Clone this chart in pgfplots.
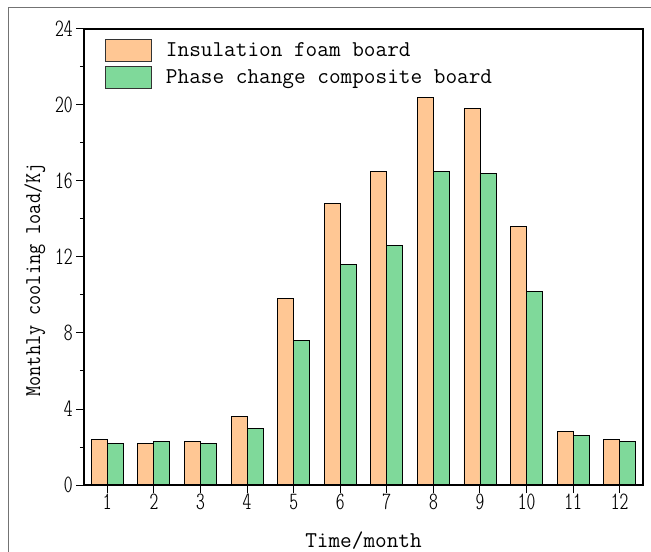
\documentclass[border=0pt]{standalone}
\usepackage{graphicx}
\usepackage{pgfplots}
\pgfplotsset{compat=1.18}
\definecolor{orangeb}{HTML}{FFC794}
\definecolor{greenb}{HTML}{7FD99A}
\newcommand{\cf}{\fontfamily{lmtt}\fontseries{lc}\selectfont}
\newcommand{\rf}{\fontfamily{lmtt}\fontseries{m}\selectfont}
\begin{document}
\begin{tikzpicture}
\useasboundingbox (-84bp,-67bp) rectangle (567bp,485bp);
\draw[black!55, line width=1bp] (-75bp,-100bp) -- (-75bp,477bp) -- (600bp,477bp);
\begin{axis}[
  at={(0,0)}, anchor=south west, scale only axis,
  width=559bp, height=456bp,
  axis on top,
  ybar=0pt, bar width=16bp,
  xmin=0.5, xmax=12.5, ymin=0, ymax=24,
  xtick={1,...,12}, ytick={0,4,...,24}, minor y tick num=1,
  tick align=outside, xtick pos=left, ytick pos=left,
  major tick length=8bp, minor tick length=4bp,
  axis line style={line width=1.2bp, black},
  tick style={line width=1bp, black},
  /pgf/number format/assume math mode=true,
  ticklabel style={font=\cf\fontsize{25}{27}\selectfont},
  xticklabel style={anchor=center, yshift=-9bp},
  yticklabel style={anchor=east, xshift=0bp},
  xlabel={Time/month}, ylabel={\scalebox{0.87}[1]{Monthly cooling load/Kj}},
  xlabel style={font=\rf\fontsize{22.7}{24}\selectfont, at={(axis description cs:0.5,-0.1228)}, anchor=center},
  ylabel style={font=\rf\fontsize{22.7}{24}\selectfont, at={(axis description cs:-0.0877,0.4496)}, anchor=center},
  legend image code/.code={\draw[#1, draw=black!80, line width=0.8bp] (0bp,-11.3bp) rectangle (46bp,11.3bp);},
  legend style={at={(axis description cs:0,1)}, anchor=north west, xshift=21bp, yshift=-9.5bp,
     draw=none, fill=none, font=\rf\fontsize{22.7}{24}\selectfont, row sep=3.5bp, inner sep=0pt,
     /tikz/every even column/.append style={column sep=0bp},
     nodes={inner xsep=0bp}},
  legend cell align=left,
]
\addplot[fill=orangeb, draw=black, line width=0.8bp] coordinates {
 (1,2.4) (2,2.2) (3,2.3) (4,3.6) (5,9.8) (6,14.8) (7,16.5) (8,20.4) (9,19.8) (10,13.6) (11,2.8) (12,2.4)};
\addplot[fill=greenb, draw=black, line width=0.8bp] coordinates {
 (1,2.2) (2,2.3) (3,2.2) (4,3.0) (5,7.6) (6,11.6) (7,12.6) (8,16.5) (9,16.4) (10,10.2) (11,2.6) (12,2.3)};
\legend{\hspace{14bp}Insulation foam board, \hspace{14bp}Phase change composite board}
\end{axis}
\end{tikzpicture}
\end{document}
